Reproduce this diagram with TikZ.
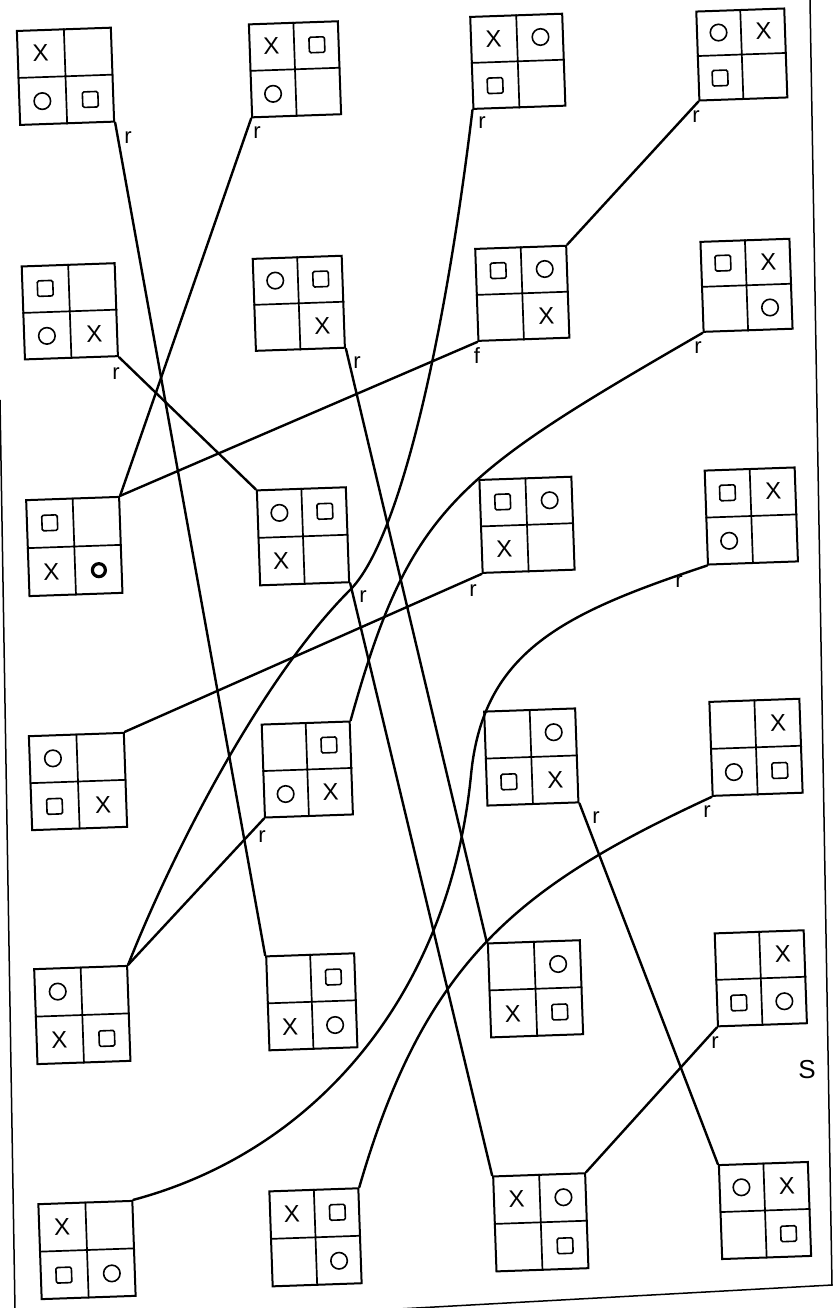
\documentclass[tikz,border=0pt]{standalone}
\usepackage{fontspec}
\setmainfont{Liberation Sans}
\usetikzlibrary{calc}
\newcommand\symtxtX{X}
\newcommand\symtxtO{}
\newcommand\symtxtQ{}
\newcommand\symtxtB{}
\newcommand\cellmark[4]{\if#1N\relax\else\node[sym#1] (#2#3) at ($(#2.center)!0.5!(#2.#4)$) {\csname symtxt#1\endcsname};\fi}
\newcommand\board[9]{%
  \node[board, minimum width=#4pt, minimum height=#5pt] (#1) at (#2,#3) {};
  \draw[inner] (#1.north) -- (#1.south) (#1.west) -- (#1.east);
  \cellmark{#6}{#1}{tl}{north west}
  \cellmark{#7}{#1}{tr}{north east}
  \cellmark{#8}{#1}{bl}{south west}
  \cellmark{#9}{#1}{br}{south east}
}
\tikzset{
  board/.style={draw, line width=2pt, rotate=2, inner sep=0pt},
  inner/.style={line width=1.7pt},
  symX/.style={font=\fontsize{24}{24}\selectfont, inner sep=0pt, rotate=2},
  symO/.style={circle, draw, line width=1.6pt, minimum size=16.5pt, inner sep=0pt},
  symQ/.style={draw, line width=1.6pt, minimum size=15.5pt, inner sep=0pt, rounded corners=1.5pt, rotate=2},
  symB/.style={circle, draw, line width=3.2pt, minimum size=13pt, inner sep=0pt},
  conn/.style={line width=2.4pt, line cap=round, line join=round},
  lab/.style={font=\fontsize{22}{22}\selectfont, inner sep=0pt},
  pageedge/.style={line width=1.5pt},
}
\begin{document}
\begin{tikzpicture}[x=1pt, y=-1pt]
\fill[white] (0,0) rectangle (834,1308);
\useasboundingbox (0,0) rectangle (834,1308);
% page edges
\draw[pageedge] (0,400) -- (15,1310);
\draw[pageedge] (810,0) -- (832,1285) -- (380,1310);
% boards
\board{b11}{65.5}{76.3}{94}{94}{X}{N}{O}{Q}
\board{b12}{295}{69.3}{89}{93}{X}{Q}{O}{N}
\board{b13}{517.8}{61.3}{92}{92}{X}{O}{Q}{N}
\board{b14}{741.8}{54.5}{88}{89}{O}{X}{Q}{N}
\board{b21}{69.8}{311.3}{93}{93}{Q}{N}{O}{X}
\board{b22}{298.8}{303.3}{89}{92}{O}{Q}{N}{X}
\board{b23}{522.3}{293.3}{91}{92}{Q}{O}{N}{X}
\board{b24}{746.5}{285.3}{89}{90}{Q}{X}{N}{O}
\board{b31}{74.3}{546.5}{93}{96}{Q}{N}{X}{B}
\board{b32}{303}{536.3}{89}{95}{O}{Q}{X}{N}
\board{b33}{527}{524.8}{92}{93}{Q}{O}{X}{N}
\board{b34}{751.3}{516}{90}{94}{Q}{X}{O}{N}
\board{b41}{78}{781.5}{95}{94}{O}{N}{Q}{X}
\board{b42}{307.3}{769.5}{88}{93}{N}{Q}{O}{X}
\board{b43}{531.3}{757}{91}{94}{N}{O}{Q}{X}
\board{b44}{756}{747.3}{90}{94}{N}{X}{O}{Q}
\board{b51}{82.3}{1015}{93}{95}{O}{N}{X}{Q}
\board{b52}{311.8}{1001.8}{88}{94}{N}{Q}{X}{O}
\board{b53}{535.5}{988.8}{92}{94}{N}{O}{X}{Q}
\board{b54}{760.8}{978.3}{89}{93}{N}{X}{Q}{O}
\board{b61}{87}{1250}{94}{95}{X}{N}{Q}{O}
\board{b62}{315.5}{1237.3}{89}{95}{X}{Q}{N}{O}
\board{b63}{540.8}{1222.3}{92}{95}{X}{O}{N}{Q}
\board{b64}{765}{1210.5}{89}{94}{O}{X}{N}{Q}
% straight connectors
\draw[conn] (b11.south east) -- (b52.north west);
\draw[conn] (b12.south west) -- (b31.north east);
\draw[conn] (b14.south west) -- (b23.north east);
\draw[conn] (b21.south east) -- (b32.north west);
\draw[conn] (b22.south east) -- (b53.north west);
\draw[conn] (b23.south west) -- (b31.north east);
\draw[conn] (b32.south east) -- (b63.north west);
\draw[conn] (b33.south west) -- (b41.north east);
\draw[conn] (b42.south west) -- (b51.north east);
\draw[conn] (b43.south east) -- (b64.north west);
\draw[conn] (b54.south west) -- (b63.north east);
% curved connectors
\coordinate (w3) at (350,590);
\draw[conn] (b13.south west) .. controls (445,338) and (400,540) .. (w3) .. controls (260,680) and (171,856) .. (b51.north east);
\draw[conn] (b24.south west) .. controls (455,476) and (410,507) .. (b42.north east);
\coordinate (w11) at (471,775);
\draw[conn] (b34.south west) .. controls (565,613) and (483,650) .. (w11) .. controls (450,990) and (320,1150) .. (b61.north east);
\draw[conn] (b44.south west) .. controls (519,886) and (425,960) .. (b62.north east);
% labels
\node[lab] (l11) at (128,138) {r};
\node[lab] (l12) at (257,133) {r};
\node[lab] (l13) at (482,123) {r};
\node[lab] (l14) at (696,117) {r};
\node[lab] (l21) at (116,374) {r};
\node[lab] (l22) at (357,363) {r};
\node[lab] (l23) at (477,356) {f};
\node[lab] (l24) at (698,348) {r};
\node[lab] (l32) at (363,597) {r};
\node[lab] (l33) at (473,591) {r};
\node[lab] (l34) at (679,582) {r};
\node[lab] (l42) at (262,837) {r};
\node[lab] (l43) at (596,818) {r};
\node[lab] (l44) at (707,812) {r};
\node[lab] (l54) at (715,1043) {r};
\node[lab, font=\fontsize{26}{26}\selectfont] (lS) at (807,1070) {S};
\end{tikzpicture}
\end{document}
